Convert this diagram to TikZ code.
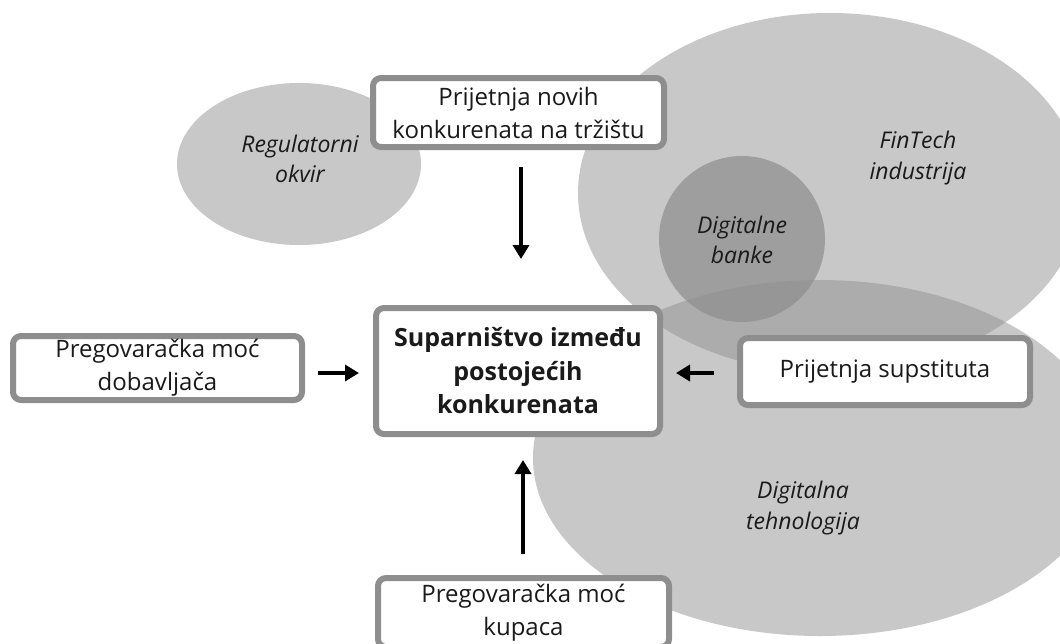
\documentclass[tikz,border=0pt]{standalone}
\usepackage{fontspec}
\setmainfont{Open Sans}
\usetikzlibrary{arrows.meta}
\definecolor{bordergray}{HTML}{8E8E8E}
\definecolor{ellgray}{HTML}{919191}
\definecolor{circgray}{HTML}{949494}
\definecolor{reggray}{HTML}{C8C8C8}
\definecolor{txt}{HTML}{1A1A1A}
\tikzset{
  forcebox/.style={draw=bordergray, line width=6pt, fill=white, rounded corners=8pt,
    align=center, text=txt, font=\fontsize{24}{33}\selectfont, inner sep=0pt},
  ellabel/.style={align=center, text=txt, font=\fontsize{23}{30.5}\selectfont\itshape},
  arr/.style={line width=4pt, draw=black, -{Triangle[length=14pt,width=16pt]}}
}
\begin{document}
\begin{tikzpicture}[x=1pt,y=-1pt]
\useasboundingbox (0,0) rectangle (1060,643);
\clip (0,0) rectangle (1060,643);
% background shapes
\fill[reggray] (299,164) ellipse [x radius=122, y radius=81];
\fill[ellgray, fill opacity=0.5] (830,193) ellipse [x radius=252, y radius=180];
\fill[circgray, fill opacity=0.8] (742,239) circle [radius=83];
\fill[ellgray, fill opacity=0.5] (820,458) ellipse [x radius=287, y radius=178];
% labels of areas
\node[ellabel] (reg) at (300,159) {Regulatorni\\okvir};
\node[ellabel] (fin) at (918,158) {FinTech\\industrija};
\node[ellabel] (dbank) at (742,240) {Digitalne\\banke};
\node[ellabel] (dtech) at (803,508) {Digitalna\\tehnologija};
% boxes
\node[forcebox, minimum width=291pt, minimum height=69pt] (top) at (518.5,112.5) {Prijetnja novih\\konkurenata na tržištu};
\node[forcebox, minimum width=284pt, minimum height=126pt, font=\fontsize{25}{33.5}\selectfont\bfseries] (mid) at (518,371) {Suparništvo između\\postojećih\\konkurenata};
\node[forcebox, minimum width=289pt, minimum height=64pt] (left) at (157.5,368) {Pregovaračka moć\\dobavljača};
\node[forcebox, minimum width=290pt, minimum height=67pt] (right) at (885,371.5) {Prijetnja supstituta};
\node[forcebox, minimum width=291pt, minimum height=69pt] (bot) at (523.5,612.5) {Pregovaračka moć\\kupaca};
% arrows
\draw[arr, shorten <=17pt, shorten >=46pt] ([xshift=2.5pt]top.south) -- ([xshift=3pt]mid.north);
\draw[arr, shorten <=21pt, shorten >=23pt] ([xshift=-0.5pt]bot.north) -- ([xshift=5pt]mid.south);
\draw[arr, shorten <=13pt, shorten >=14pt] ([yshift=-5pt]left.east) -- ([yshift=-2pt]mid.west);
\draw[arr, shorten <=23pt, shorten >=13pt] ([yshift=-1.5pt]right.west) -- ([yshift=-2pt]mid.east);
\end{tikzpicture}
\end{document}
